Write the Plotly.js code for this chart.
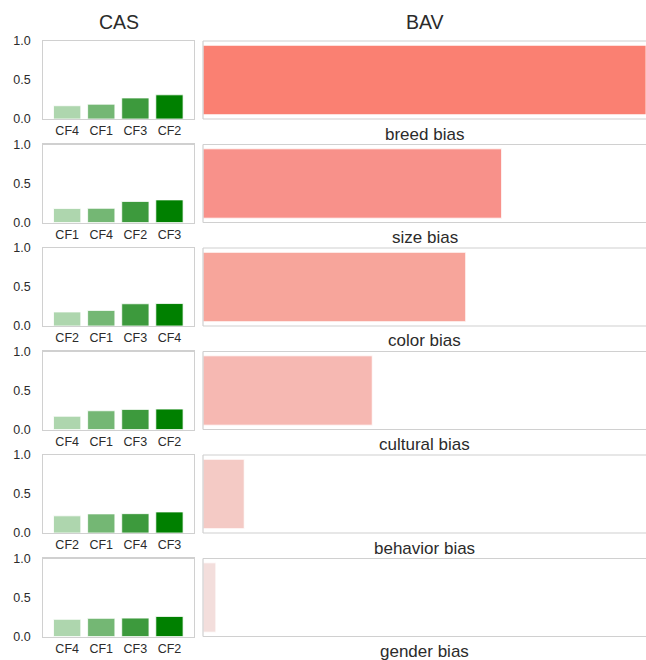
<!DOCTYPE html>
<html>
<head>
<meta charset="utf-8">
<script src="https://cdn.plot.ly/plotly-3.0.1.min.js"></script>
<style>html,body{margin:0;padding:0;background:#fff;} #chart{width:646px;height:660px;}</style>
</head>
<body>
<div id="chart"></div>
<script>
// ---- data ----
const biases = ['breed bias', 'size bias', 'color bias', 'cultural bias', 'behavior bias', 'gender bias'];
const cfNames = ['CF1', 'CF2', 'CF3', 'CF4'];
// CAS score per counterfactual, one entry per bias
const cf1 = [0.19, 0.180, 0.20, 0.24, 0.245, 0.233];
const cf2 = [0.31, 0.27, 0.18, 0.262, 0.22, 0.257];
const cf3 = [0.27, 0.29, 0.285, 0.258, 0.27, 0.236];
const cf4 = [0.17, 0.182, 0.288, 0.17, 0.248, 0.22];
// BAV per bias
const bav = [1.0, 0.674, 0.593, 0.382, 0.093, 0.029];
const casTickVals = [0, 0.5, 1.0];

// ---- styling ----
const FONT = 'Liberation Sans, Arial, sans-serif';
const TXT = '#2b2b2b';
const SPINE = '#d0d0d0';
const greenColors = ['#aed6ae', '#74b774', '#3d9a3d', '#008000'];
const bavColors = ['#fa8072', '#f8918a', '#f7a59b', '#f6b8b2', '#f4cac5', '#f3dedc'];

const W = 646, H = 660;
const top0 = 41, step = 103.5, ph = 78;
const casX = [43.3 / W, 194 / W];
const bavX = [203 / W, 1.0];

const data = [];
const layout = {
  width: W, height: H,
  margin: {l: 0, r: 0, t: 0, b: 0},
  paper_bgcolor: '#fff', plot_bgcolor: '#fff',
  showlegend: false,
  font: {family: FONT, color: TXT},
  bargap: 0.2,
  annotations: [],
  shapes: []
};

const casSeries = [cf1, cf2, cf3, cf4];

biases.forEach((b, i) => {
  const yTop = top0 + step * i;
  const dom = [1 - (yTop + ph) / H, 1 - yTop / H];
  const na = 2 * i + 1, nb = 2 * i + 2;
  const xa = 'x' + (na === 1 ? '' : na), ya = 'y' + (na === 1 ? '' : na);
  const xb = 'x' + nb, yb = 'y' + nb;

  // sort CFs ascending by value for this bias
  const pairs = cfNames.map((n, k) => ({n: n, v: casSeries[k][i]}));
  pairs.sort((p, q) => p.v - q.v);
  data.push({
    type: 'bar',
    x: pairs.map(p => p.n),
    y: pairs.map(p => p.v),
    xaxis: xa, yaxis: ya,
    marker: {color: greenColors, line: {color: '#fff', width: 0.8}},
    hoverinfo: 'x+y'
  });
  layout['xaxis' + (na === 1 ? '' : na)] = {
    domain: casX, anchor: ya, type: 'category',
    categoryorder: 'array', categoryarray: pairs.map(p => p.n),
    range: [-0.7, 3.72],
    showline: true, mirror: true, linecolor: SPINE, linewidth: 1.2,
    showgrid: false, zeroline: false, ticks: '',
    tickfont: {family: FONT, size: 12.5, color: TXT}
  };
  layout['yaxis' + (na === 1 ? '' : na)] = {
    domain: dom, anchor: xa, range: [0, 1],
    tickvals: casTickVals, tickformat: '.1f',
    showline: true, mirror: true, linecolor: SPINE, linewidth: 1.2,
    showgrid: false, zeroline: false, ticks: '',
    ticklabelstandoff: 9,
    tickfont: {family: FONT, size: 12.5, color: TXT}
  };

  data.push({
    type: 'bar', orientation: 'h',
    x: [bav[i]], y: [b],
    xaxis: xb, yaxis: yb,
    width: 0.8,
    marker: {color: bavColors[i], line: {color: '#fff', width: 0.8}},
    hoverinfo: 'x+y'
  });
  layout['xaxis' + nb] = {
    domain: bavX, anchor: yb, range: [0, 1.0],
    showline: false, showgrid: false, zeroline: false, showticklabels: false, ticks: ''
  };
  layout['yaxis' + nb] = {
    domain: dom, anchor: xb, type: 'category', range: [-0.45, 0.45],
    showline: false, showgrid: false, zeroline: false, showticklabels: false, ticks: ''
  };
  // open frame: left, top, bottom (right edge lies outside the picture)
  const ln = {color: SPINE, width: 1.2};
  layout.shapes.push(
    {type: 'line', xref: xb + ' domain', yref: yb + ' domain', x0: 0, x1: 0, y0: 0, y1: 1, line: ln, layer: 'above'},
    {type: 'line', xref: xb + ' domain', yref: yb + ' domain', x0: 0, x1: 1.01, y0: 1, y1: 1, line: ln, layer: 'above'},
    {type: 'line', xref: xb + ' domain', yref: yb + ' domain', x0: 0, x1: 1.01, y0: 0, y1: 0, line: ln, layer: 'above'}
  );
  layout.annotations.push({
    text: b, xref: xb + ' domain', yref: yb + ' domain', x: 0.5, y: 0,
    yshift: -15, xanchor: 'center', yanchor: 'middle', showarrow: false,
    font: {family: FONT, size: 17, color: TXT}
  });
});

layout.annotations.push({
  text: 'CAS', xref: 'x domain', yref: 'paper', x: 0.5, y: 1 - 22 / H,
  xanchor: 'center', yanchor: 'middle', showarrow: false,
  font: {family: FONT, size: 19.5, color: TXT}
});
layout.annotations.push({
  text: 'BAV', xref: 'x2 domain', yref: 'paper', x: 0.5, y: 1 - 22 / H,
  xanchor: 'center', yanchor: 'middle', showarrow: false,
  font: {family: FONT, size: 19.5, color: TXT}
});

Plotly.newPlot('chart', data, layout, {displayModeBar: false, staticPlot: true});
</script>
</body>
</html>
